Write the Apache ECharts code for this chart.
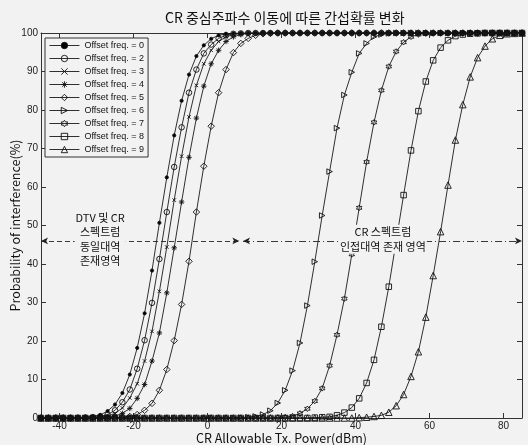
<!DOCTYPE html>
<html>
<head>
<meta charset="utf-8">
<script src="https://cdn.jsdelivr.net/npm/echarts@6/dist/echarts.min.js"></script>
<style>
html,body{margin:0;padding:0;background:#f2f2f2;}
#c{width:528px;height:445px;}
</style>
</head>
<body>
<div id="c"></div>
<script>
// Tx power sample points (dBm)
var txPower = [-45,-43,-41,-39,-37,-35,-33,-31,-29,-27,-25,-23,-21,-19,-17,-15,-13,-11,-9,-7,-5,-3,-1,1,3,5,7,9,11,13,15,17,19,21,23,25,27,29,31,33,35,37,39,41,43,45,47,49,51,53,55,57,59,61,63,65,67,69,71,73,75,77,79,81,83,85];

var off0 = [0,0,0,0,0,0.1,0.2,0.4,0.8,1.8,3.5,6.5,11.3,18.2,27.2,38.3,50.7,62.5,73.4,82.4,89.2,94.0,96.8,98.5,99.4,99.8,99.9,
  100,100,100,100,100,100,100,100,100,100,100,100,100,100,100,100,100,100,100,100,100,100,100,100,100,100,100,100,100,100,100,100,100,100,100,100,100,100,100];
var off2 = [0,0,0,0,0,0,0.1,0.2,0.4,0.9,2.0,4.1,7.4,12.8,20.2,29.9,41.3,53.5,65.2,75.5,84.5,90.5,94.7,97.0,98.6,99.4,99.8,99.9,
  100,100,100,100,100,100,100,100,100,100,100,100,100,100,100,100,100,100,100,100,100,100,100,100,100,100,100,100,100,100,100,100,100,100,100,100,100,100];
var off3 = [0,0,0,0,0,0,0,0.1,0.2,0.5,1.2,2.6,5.2,8.9,14.8,22.5,32.9,44.4,56.6,68.0,78.2,86.4,92.0,95.5,97.8,99.0,99.6,99.9,
  100,100,100,100,100,100,100,100,100,100,100,100,100,100,100,100,100,100,100,100,100,100,100,100,100,100,100,100,100,100,100,100,100,100,100,100,100,100];
var off4 = [0,0,0,0,0,0,0,0,0.1,0.2,0.5,1.2,2.5,5.1,8.7,14.8,22.1,32.5,44.2,56.1,67.7,77.9,86.2,92.0,95.5,97.8,99.0,99.6,99.9,
  100,100,100,100,100,100,100,100,100,100,100,100,100,100,100,100,100,100,100,100,100,100,100,100,100,100,100,100,100,100,100,100,100,100,100,100,100];
var off5 = [0,0,0,0,0,0,0,0,0,0,0.1,0.2,0.4,0.9,2.0,3.8,7.2,12.6,20.1,29.5,40.7,53.5,65.4,75.8,84.5,90.5,94.9,97.3,98.6,99.4,99.8,99.9,
  100,100,100,100,100,100,100,100,100,100,100,100,100,100,100,100,100,100,100,100,100,100,100,100,100,100,100,100,100,100,100,100,100,100];
var off6 = [0,0,0,0,0,0,0,0,0,0,0,0,0,0,0,0,0,0,0,0,0,0,0,0,0,0,0,
  0.1,0.2,0.4,0.9,1.9,3.9,7.2,12.3,19.5,29.2,40.6,52.6,64.0,75.3,83.9,89.8,94.7,97.3,99.0,99.6,99.9,
  100,100,100,100,100,100,100,100,100,100,100,100,100,100,100,100,100,100];
var off7 = [0,0,0,0,0,0,0,0,0,0,0,0,0,0,0,0,0,0,0,0,0,0,0,0,0,0,0,0,0,0,0,0,
  0.1,0.2,0.5,1.2,2.4,4.4,7.7,13.6,21.6,31.0,42.5,54.6,66.5,76.8,85.1,91.3,95.2,97.6,99.0,99.6,99.9,
  100,100,100,100,100,100,100,100,100,100,100,100,100];
var off8 = [0,0,0,0,0,0,0,0,0,0,0,0,0,0,0,0,0,0,0,0,0,0,0,0,0,0,0,0,0,0,0,0,0,0,0,0,0,
  0.1,0.2,0.3,0.7,1.4,2.7,5.1,9.1,15.1,23.7,34.1,46.0,57.9,69.5,79.7,87.4,92.9,96.2,98.1,99.2,99.6,99.8,99.9,
  100,100,100,100,100,100];
var off9 = [0,0,0,0,0,0,0,0,0,0,0,0,0,0,0,0,0,0,0,0,0,0,0,0,0,0,0,0,0,0,0,0,0,0,0,0,0,0,0,0,0,0,0,
  0.1,0.2,0.4,0.7,1.5,3.2,6.1,10.8,17.2,26.2,37.0,48.4,60.5,72.2,81.4,88.6,93.6,96.6,98.5,99.4,99.8,99.9,100];

var seriesNames = ['Offset freq. = 0','Offset freq. = 2','Offset freq. = 3','Offset freq. = 4','Offset freq. = 5',
                   'Offset freq. = 6','Offset freq. = 7','Offset freq. = 8','Offset freq. = 9'];
var seriesValues = [off0, off2, off3, off4, off5, off6, off7, off8, off9];
var xTicks = [-40,-20,0,20,40,60,80];

// annotation values
var boundaryLevel = 46;
var leftArrowSpan = [-45, 8.6];
var rightArrowSpan = [9.6, 85];
var leftTextPos = [-29.0, 46.4];
var rightTextPos = [47.4, 46.4];
var leftText = 'DTV 및 CR\n스펙트럼\n동일대역\n존재영역';
var rightText = 'CR 스펙트럼\n인접대역 존재 영역';

var clear = 'rgba(0,0,0,0)';
var symbols = [
  {s:'circle', z:3.2, fill:'#000'},
  {s:'circle', z:5.5, fill:clear},
  {s:'path://M0,0L10,10M10,0L0,10', z:3.5, fill:clear},
  {s:'path://M5,0L5,10M0,5L10,5M1.5,1.5L8.5,8.5M8.5,1.5L1.5,8.5', z:5.5, fill:clear},
  {s:'diamond', z:6.5, fill:clear},
  {s:'path://M0,0L10,5L0,10Z', z:5.5, fill:clear},
  {s:'path://M5,0L6.44,2.5L9.33,2.5L7.89,5L9.33,7.5L6.44,7.5L5,10L3.56,7.5L0.67,7.5L2.11,5L0.67,2.5L3.56,2.5Z', z:5.5, fill:clear},
  {s:'rect', z:5.5, fill:clear},
  {s:'triangle', z:6.5, fill:clear}
];

var series = seriesNames.map(function(name, k){
  return {
    name: name,
    type: 'line',
    data: txPower.map(function(x, i){ return [x, seriesValues[k][i]]; }),
    symbol: symbols[k].s,
    symbolSize: symbols[k].z,
    showAllSymbol: true,
    lineStyle: {color:'#1a1a1a', width:0.9},
    itemStyle: {color: symbols[k].fill, borderColor:'#111', borderWidth: 0.9},
    emphasis: {disabled:true},
    z: 2 + k*0.01
  };
});

var legendData = seriesNames.map(function(name, k){
  return {
    name: name,
    itemStyle: {color: symbols[k].fill, borderColor:'#111', borderWidth:0.9},
    lineStyle: {color:'#1a1a1a', width:0.9}
  };
});

series.push({
  name: 'annot-lines',
  type: 'line',
  data: [],
  silent: true,
  z: 3,
  markLine: {
    silent: true,
    animation: false,
    symbol: ['arrow','arrow'],
    symbolSize: [5, 7],
    label: {show:false},
    z: 3,
    data: [
      [{coord:[leftArrowSpan[0], boundaryLevel], lineStyle:{type:[5,3], color:'#222', width:0.9}, itemStyle:{color:'#222'}},
       {coord:[leftArrowSpan[1], boundaryLevel]}],
      [{coord:[rightArrowSpan[0], boundaryLevel], lineStyle:{type:[7,3,1,3], color:'#222', width:0.9}, itemStyle:{color:'#222'}},
       {coord:[rightArrowSpan[1], boundaryLevel]}]
    ]
  }
});

series.push({
  name: 'annot-text',
  type: 'line',
  data: [],
  silent: true,
  z: 6,
  markPoint: {
    silent: true,
    animation: false,
    symbol: 'rect',
    symbolSize: 1,
    itemStyle: {color:'rgba(0,0,0,0)'},
    z: 8,
    label: {
      show: true,
      position: 'inside',
      color: '#111',
      fontFamily: 'Noto Sans CJK KR',
      fontSize: 11,
      lineHeight: 14.5,
      align: 'center',
      backgroundColor: '#f2f2f2',
      padding: [0, 1]
    },
    data: [
      {coord: leftTextPos, label:{formatter: leftText}},
      {coord: rightTextPos, label:{formatter: rightText}}
    ]
  }
});

var axisLineStyle = {color:'#333', width:1};

var option = {
  backgroundColor: '#f2f2f2',
  animation: false,
  title: {
    text: 'CR 중심주파수 이동에 따른 간섭확률 변화',
    left: 160, top: 6,
    textStyle: {fontFamily:'Noto Sans CJK KR', fontSize:14, fontWeight:'normal', color:'#111'}
  },
  grid: {left:41, right:6, top:33, bottom:27, containLabel:false, outerBoundsMode:'none'},
  legend: {
    data: legendData,
    orient: 'vertical',
    left: 45, top: 38,
    itemWidth: 30, itemHeight: 8, itemGap: 4,
    padding: [3, 4, 3, 4],
    borderColor: '#333', borderWidth: 1,
    backgroundColor: '#f2f2f2',
    textStyle: {fontFamily:'Liberation Sans', fontSize:9, color:'#111'},
    selectedMode: false
  },
  xAxis: [{
    type: 'value', min: -45, max: 85,
    name: 'CR Allowable Tx. Power(dBm)', nameLocation:'middle', nameGap: 14, nameMoveOverlap: false,
    nameTextStyle: {fontFamily:'Noto Sans CJK KR', fontSize:12.5, color:'#111'},
    axisLine: {show:true, onZero:false, lineStyle: axisLineStyle},
    axisTick: {show:true, inside:true, length:5, customValues: xTicks, lineStyle: axisLineStyle},
    axisLabel: {customValues: xTicks, margin:3, fontFamily:'Liberation Sans', fontSize:10, color:'#222'},
    splitLine: {show:false}
  }, {
    type: 'value', min: -45, max: 85, position:'top',
    axisLine: {show:true, onZero:false, lineStyle: axisLineStyle},
    axisTick: {show:true, inside:true, length:5, customValues: xTicks, lineStyle: axisLineStyle},
    axisLabel: {show:false},
    splitLine: {show:false}
  }],
  yAxis: [{
    type: 'value', min: 0, max: 100, interval: 10,
    name: 'Probability of interference(%)', nameLocation:'middle', nameGap: 19, nameMoveOverlap: false,
    nameTextStyle: {fontFamily:'Noto Sans CJK KR', fontSize:12.5, color:'#111'},
    axisLine: {show:true, onZero:false, lineStyle: axisLineStyle},
    axisTick: {show:true, inside:true, length:5, lineStyle: axisLineStyle},
    axisLabel: {margin:3, fontFamily:'Liberation Sans', fontSize:10, color:'#222'},
    splitLine: {show:false}
  }, {
    type: 'value', min: 0, max: 100, interval: 10, position:'right',
    axisLine: {show:true, onZero:false, lineStyle: axisLineStyle},
    axisTick: {show:true, inside:true, length:5, lineStyle: axisLineStyle},
    axisLabel: {show:false},
    splitLine: {show:false}
  }],
  series: series
};

var chart = echarts.init(document.getElementById('c'));
chart.setOption(option);
</script>
</body>
</html>
